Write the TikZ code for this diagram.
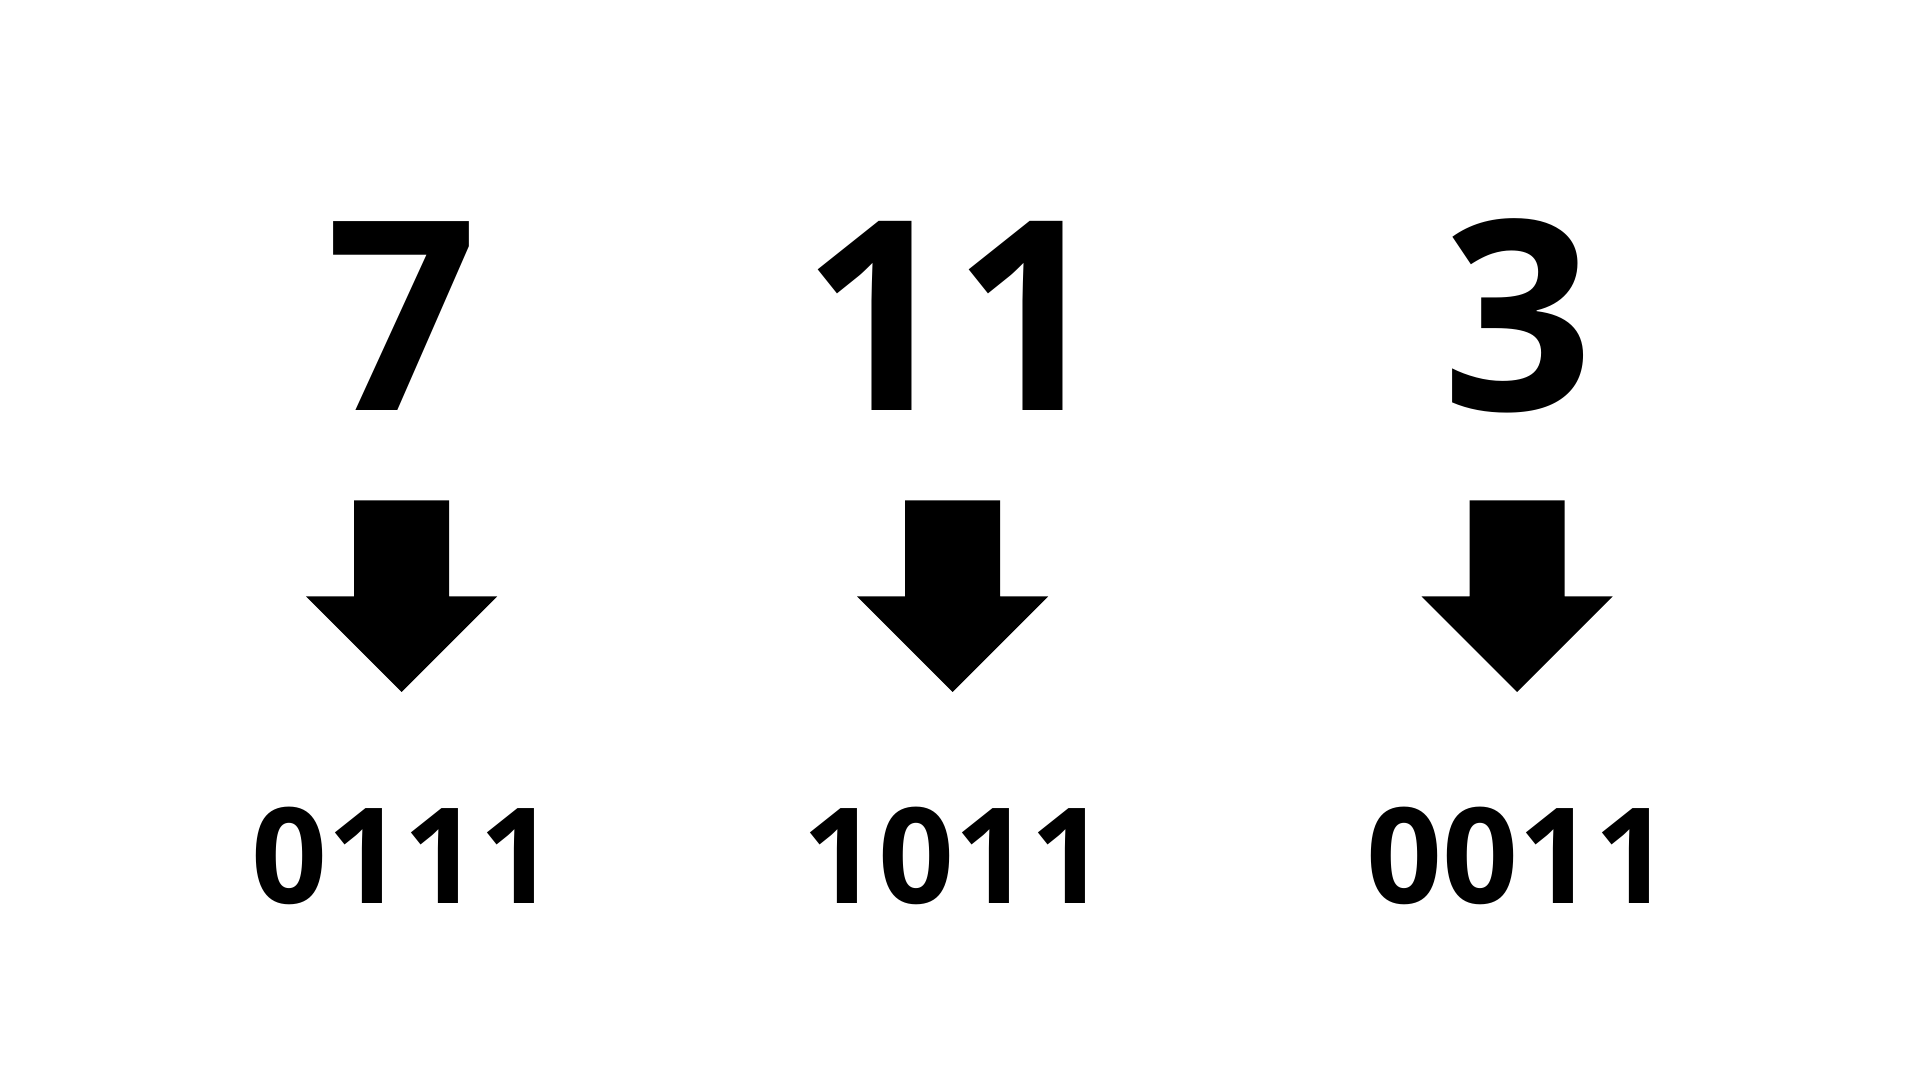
\documentclass[tikz,border=0pt]{standalone}
\usepackage{fontspec}
\setmainfont{Open Sans}
\begin{document}
\begin{tikzpicture}[x=1pt,y=1pt,
  bignum/.style={inner sep=0pt,anchor=base,font=\fontsize{265}{265}\selectfont\bfseries},
  binnum/.style={inner sep=0pt,anchor=base,font=\fontsize{133}{133}\selectfont\bfseries},
  blockarrow/.style={fill=black,draw=none}]
\useasboundingbox[fill=white] (0,0) rectangle (1920,1080);
\foreach \name/\cx/\top/\bin in {a/401.6/7/0111, b/952.6/11/1011, c/1517/3/0011}{
  \node[bignum] (\name top) at (\cx+1,669.8) {\top};
  \node[binnum] (\name bin) at (\cx+1.5,176.3) {\bin};
  \coordinate (\name tip) at (\cx,388);
  \fill[blockarrow] (\name tip) -- ++(-95.5,95.5) -- ++(48,0) -- ++(0,96) -- ++(95,0) -- ++(0,-96) -- ++(48,0) -- cycle;
}
\end{tikzpicture}
\end{document}
